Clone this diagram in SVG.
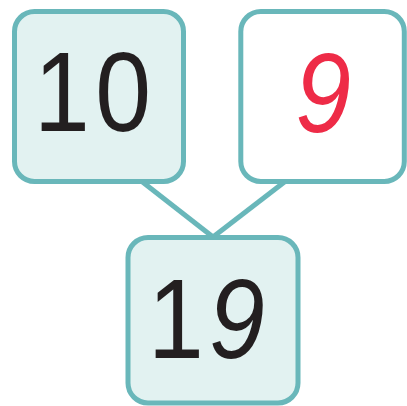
<svg xmlns="http://www.w3.org/2000/svg" width="407" height="406" viewBox="0 0 407 406">
<style>
.box{stroke:#69B7BA;stroke-width:5;}
.shaded{fill:#E2F2F1;}
.plain{fill:#FFFFFF;}
.conn{stroke:#69B7BA;stroke-width:5;fill:none;stroke-linecap:butt;}
.num{font-family:"Liberation Sans",Arial,sans-serif;font-size:114px;fill:#231F20;}
.red{fill:#EE2B47;}
.it{font-style:italic;}
</style>
<rect width="407" height="406" fill="#FFFFFF"/>
<g id="connectors">
<line class="conn" x1="140" y1="180" x2="213" y2="237"/>
<line class="conn" x1="287" y1="180" x2="213" y2="237"/>
</g>
<g id="node-10">
<rect class="box shaded" x="14.5" y="11.5" width="169" height="170" rx="20"/>
<text class="num" y="131" transform="matrix(0.88 0 0 1 0 0)"><tspan x="38.6">1</tspan><tspan x="108.2">0</tspan></text>
</g>
<g id="node-9">
<rect class="box plain" x="240.8" y="11.5" width="163.5" height="170" rx="20"/>
<text class="num red it" x="323" y="132" text-anchor="middle" transform="translate(324 0) scale(0.88 1) translate(-324 0)">9</text>
</g>
<g id="node-19">
<rect class="box shaded" x="128" y="237.5" width="170" height="165.5" rx="20"/>
<text class="num" y="358" transform="matrix(0.88 0 0 1 0 0)"><tspan x="168.2">1</tspan><tspan class="it" x="237.4">9</tspan></text>
</g>
</svg>
